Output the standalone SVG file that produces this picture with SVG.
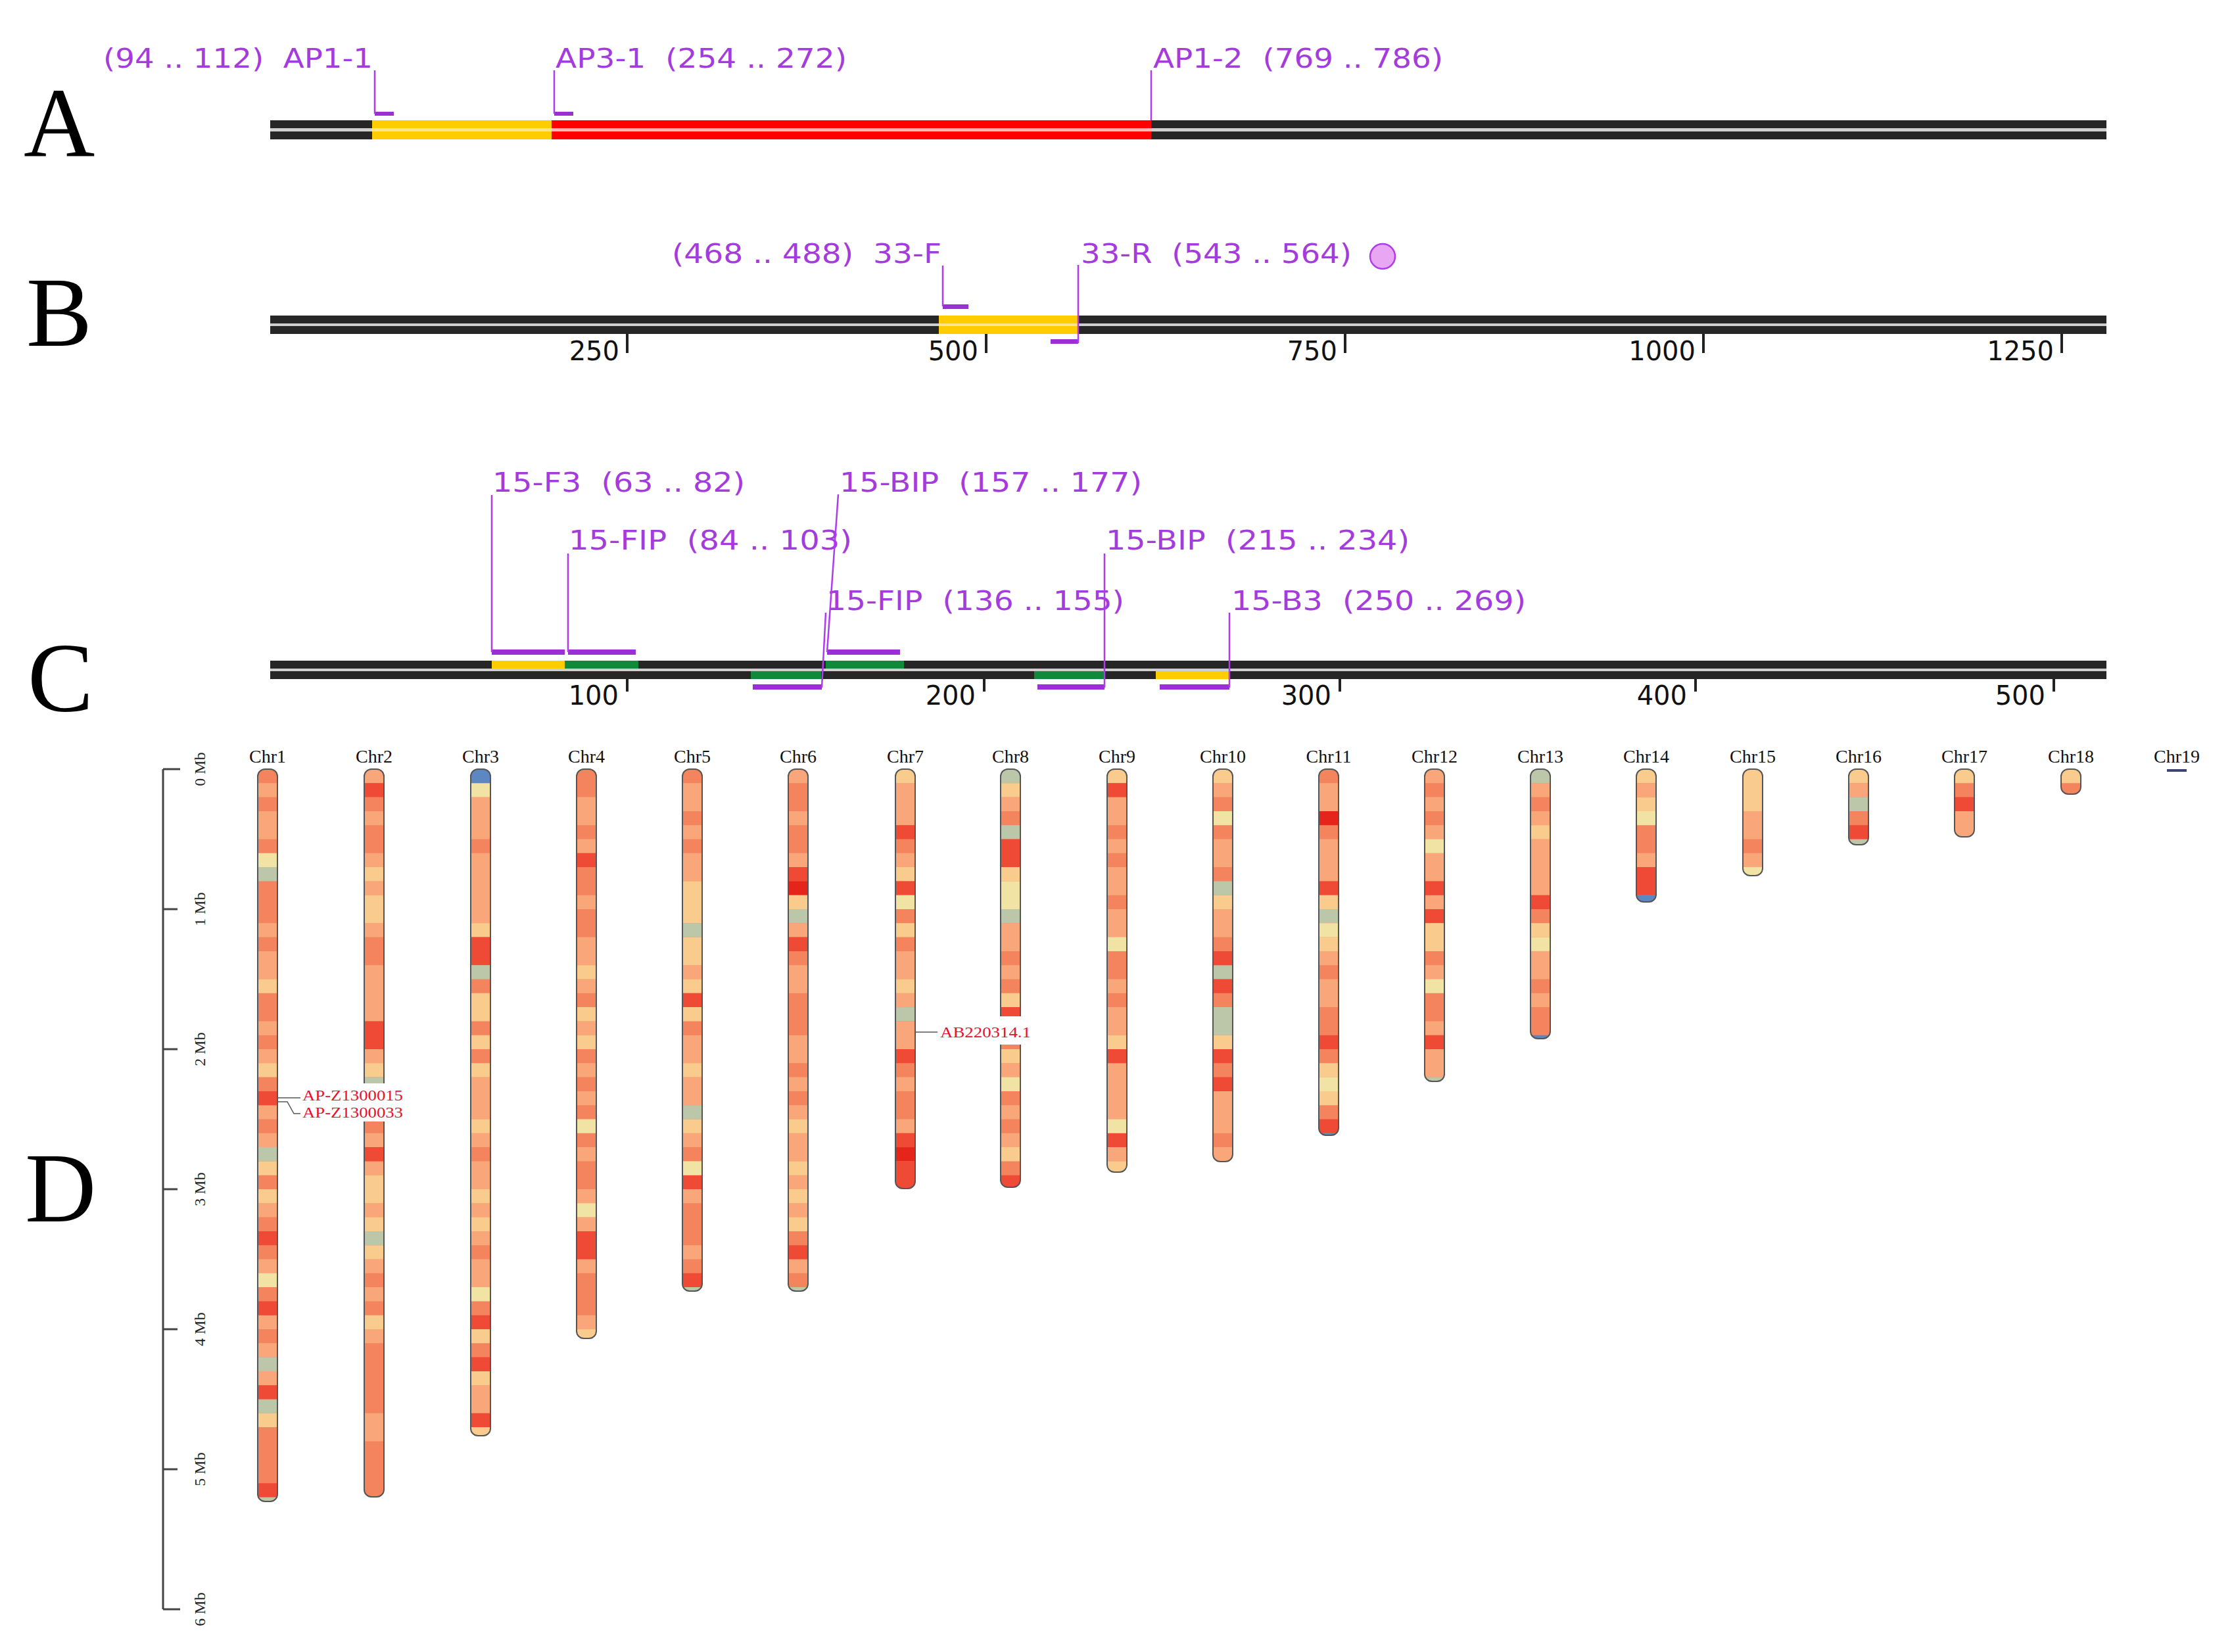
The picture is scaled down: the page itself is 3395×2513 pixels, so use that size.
<svg xmlns="http://www.w3.org/2000/svg" width="3395" height="2513" viewBox="0 0 3395 2513">
<style>
.lab{font-family:"DejaVu Sans",sans-serif;font-size:40px;fill:#A43CDD;white-space:pre}
.tk{font-family:"DejaVu Sans",sans-serif;font-size:40px;fill:#111;text-anchor:end}
.big{font-family:"Liberation Serif",serif;font-size:150px;fill:#000}
.chrl{font-family:"Liberation Serif",serif;font-size:28px;text-anchor:middle;fill:#111}
.mb{font-family:"Liberation Serif",serif;font-size:24px;text-anchor:middle;fill:#222}
.red{font-family:"Liberation Serif",serif;font-size:23px;fill:#E8112D}
.dk{fill:#262626}.gp{fill:#cfcfcf}
.yl{fill:#FFCC00}.yg{fill:#FFE58A}.rd{fill:#FF0000}.rg{fill:#FFB8B8}.gr{fill:#0E8A3A}
.pl{stroke:#B03AF0;stroke-width:2.5;fill:none}
.bar{fill:#9B2FD6}
.tick{stroke:#222;stroke-width:4}
.ax{stroke:#444;stroke-width:3;fill:none}
.ol{fill:none;stroke:#555;stroke-width:2}
.cl{stroke:#555;stroke-width:1.5;fill:none}
.bk{fill:#fff}
.chr path{fill:none;stroke-width:30}
.C{stroke:#F4845E}.S{stroke:#F8A67A}.P{stroke:#F9CB8D}.Y{stroke:#F1E3A3}.G{stroke:#BCC6A9}.R{stroke:#EF4A35}.D{stroke:#E5241C}.B{stroke:#5D87C2}
</style>
<defs>
<clipPath id="k1"><rect x="392" y="1170" width="30" height="1114" rx="11"/></clipPath>
<clipPath id="k2"><rect x="554" y="1170" width="30" height="1107" rx="11"/></clipPath>
<clipPath id="k3"><rect x="716" y="1170" width="30" height="1014" rx="11"/></clipPath>
<clipPath id="k4"><rect x="877" y="1170" width="30" height="866" rx="11"/></clipPath>
<clipPath id="k5"><rect x="1038" y="1170" width="30" height="794" rx="11"/></clipPath>
<clipPath id="k6"><rect x="1199" y="1170" width="30" height="794" rx="11"/></clipPath>
<clipPath id="k7"><rect x="1362" y="1170" width="30" height="638" rx="11"/></clipPath>
<clipPath id="k8"><rect x="1522" y="1170" width="30" height="636" rx="11"/></clipPath>
<clipPath id="k9"><rect x="1684" y="1170" width="30" height="613" rx="11"/></clipPath>
<clipPath id="k10"><rect x="1845" y="1170" width="30" height="597" rx="11"/></clipPath>
<clipPath id="k11"><rect x="2006" y="1170" width="30" height="557" rx="11"/></clipPath>
<clipPath id="k12"><rect x="2167" y="1170" width="30" height="475" rx="11"/></clipPath>
<clipPath id="k13"><rect x="2328" y="1170" width="30" height="410" rx="11"/></clipPath>
<clipPath id="k14"><rect x="2489" y="1170" width="30" height="202" rx="11"/></clipPath>
<clipPath id="k15"><rect x="2651" y="1170" width="30" height="162" rx="11"/></clipPath>
<clipPath id="k16"><rect x="2812" y="1170" width="30" height="115" rx="11"/></clipPath>
<clipPath id="k17"><rect x="2973" y="1170" width="30" height="103" rx="11"/></clipPath>
<clipPath id="k18"><rect x="3135" y="1170" width="30" height="38" rx="11"/></clipPath>
</defs>
<rect width="3395" height="2513" fill="#fff"/>

<g id="panelA">
<text class="big" x="36" y="237">A</text>
<rect class="dk" x="411" y="183" width="2793" height="12"/><rect class="gp" x="411" y="195" width="2793" height="5"/><rect class="dk" x="411" y="200" width="2793" height="12"/>
<rect class="yl" x="566" y="183" width="273" height="29"/><rect class="yg" x="566" y="195" width="273" height="5"/>
<rect class="rd" x="839" y="183" width="912" height="29"/><rect class="rg" x="839" y="195" width="912" height="5"/>
</g>
<g id="AP1-1"><text class="lab" x="157" y="103" textLength="410" lengthAdjust="spacingAndGlyphs">(94 .. 112)  AP1-1</text><rect class="bar" x="570" y="170" width="29" height="6"/></g>
<g id="AP3-1"><text class="lab" x="845" y="103" textLength="443" lengthAdjust="spacingAndGlyphs">AP3-1  (254 .. 272)</text><rect class="bar" x="843" y="170" width="29" height="6"/></g>
<g id="AP1-2"><text class="lab" x="1754" y="103" textLength="441" lengthAdjust="spacingAndGlyphs">AP1-2  (769 .. 786)</text></g>

<g id="panelB">
<text class="big" x="40" y="526">B</text>
<rect class="dk" x="411" y="480" width="2793" height="12"/><rect class="gp" x="411" y="492" width="2793" height="4"/><rect class="dk" x="411" y="496" width="2793" height="12"/>
<rect class="yl" x="1428" y="480" width="212" height="28"/><rect class="yg" x="1428" y="492" width="212" height="4"/>
<line class="tick" x1="954" y1="508" x2="954" y2="537"/><text class="tk" x="942" y="548">250</text>
<line class="tick" x1="1500" y1="508" x2="1500" y2="537"/><text class="tk" x="1488" y="548">500</text>
<line class="tick" x1="2046" y1="508" x2="2046" y2="537"/><text class="tk" x="2034" y="548">750</text>
<line class="tick" x1="2591" y1="508" x2="2591" y2="537"/><text class="tk" x="2579" y="548">1000</text>
<line class="tick" x1="3136" y1="508" x2="3136" y2="537"/><text class="tk" x="3124" y="548">1250</text>
</g>
<g id="p33-F"><text class="lab" x="1022" y="400" textLength="410" lengthAdjust="spacingAndGlyphs">(468 .. 488)  33-F</text><rect class="bar" x="1434" y="463" width="39" height="7"/></g>
<g id="p33-R"><text class="lab" x="1644" y="400" textLength="412" lengthAdjust="spacingAndGlyphs">33-R  (543 .. 564)</text><rect class="bar" x="1598" y="516" width="42" height="7"/><circle cx="2103" cy="390" r="19" fill="#E9A6F2" stroke="#B03AF0" stroke-width="2.5"/></g>

<g id="panelC">
<text class="big" x="42" y="1082">C</text>
<rect class="dk" x="411" y="1005" width="2793" height="12"/><rect class="gp" x="411" y="1017" width="2793" height="4"/><rect class="dk" x="411" y="1021" width="2793" height="12"/>
<rect class="yl" x="748" y="1005" width="111" height="12"/><rect class="gr" x="859" y="1005" width="112" height="12"/><rect class="gr" x="1256" y="1005" width="119" height="12"/>
<rect class="gr" x="1142" y="1021" width="107" height="12"/><rect class="gr" x="1573" y="1021" width="107" height="12"/><rect class="yl" x="1758" y="1021" width="111" height="12"/>
<line class="tick" x1="954" y1="1033" x2="954" y2="1052"/><text class="tk" x="941" y="1072">100</text>
<line class="tick" x1="1497" y1="1033" x2="1497" y2="1052"/><text class="tk" x="1484" y="1072">200</text>
<line class="tick" x1="2038" y1="1033" x2="2038" y2="1052"/><text class="tk" x="2025" y="1072">300</text>
<line class="tick" x1="2579" y1="1033" x2="2579" y2="1052"/><text class="tk" x="2566" y="1072">400</text>
<line class="tick" x1="3124" y1="1033" x2="3124" y2="1052"/><text class="tk" x="3111" y="1072">500</text>
</g>
<g id="p15-F3"><text class="lab" x="749" y="748" textLength="384" lengthAdjust="spacingAndGlyphs">15-F3  (63 .. 82)</text><rect class="bar" x="748" y="988" width="111" height="8"/></g>
<g id="p15-BIP1"><text class="lab" x="1277" y="748" textLength="460" lengthAdjust="spacingAndGlyphs">15-BIP  (157 .. 177)</text><rect class="bar" x="1258" y="988" width="111" height="8"/></g>
<g id="p15-FIP1"><text class="lab" x="865" y="836" textLength="431" lengthAdjust="spacingAndGlyphs">15-FIP  (84 .. 103)</text><rect class="bar" x="864" y="988" width="103" height="8"/></g>
<g id="p15-BIP2"><text class="lab" x="1682" y="836" textLength="462" lengthAdjust="spacingAndGlyphs">15-BIP  (215 .. 234)</text><rect class="bar" x="1578" y="1041" width="102" height="8"/></g>
<g id="p15-FIP2"><text class="lab" x="1257" y="928" textLength="453" lengthAdjust="spacingAndGlyphs">15-FIP  (136 .. 155)</text><rect class="bar" x="1145" y="1041" width="105" height="8"/></g>
<g id="p15-B3"><text class="lab" x="1873" y="928" textLength="448" lengthAdjust="spacingAndGlyphs">15-B3  (250 .. 269)</text><rect class="bar" x="1764" y="1041" width="106" height="8"/></g>

<g id="connectors">
<path class="pl" d="M570 107V173M843 107V173M1751 107V183"/>
<path class="pl" d="M1434 404V466M1640 403V522"/>
<path class="pl" d="M748 753V992M864 842V992M1275 752L1258 992M1256 932L1250 1046M1680 842V1046M1870 932V1046"/>
<path class="cl" d="M393 1670H457M393 1676H437L447 1694H457"/>
<path class="cl" d="M1362 1570H1428"/>
</g>

<g id="panelD">
<text class="big" x="38" y="1858">D</text>
<path class="ax" d="M248 1170V2448M248 1170H274M248 1383H270M248 1596H270M248 1809H270M248 2022H270M248 2235H270M248 2448H274"/>
<text class="mb" transform="translate(312,1170) rotate(-90)">0 Mb</text>
<text class="mb" transform="translate(312,1383) rotate(-90)">1 Mb</text>
<text class="mb" transform="translate(312,1596) rotate(-90)">2 Mb</text>
<text class="mb" transform="translate(312,1809) rotate(-90)">3 Mb</text>
<text class="mb" transform="translate(312,2022) rotate(-90)">4 Mb</text>
<text class="mb" transform="translate(312,2235) rotate(-90)">5 Mb</text>
<text class="mb" transform="translate(312,2448) rotate(-90)">6 Mb</text>
</g>

<g id="chr1" class="chr"><text class="chrl" x="407" y="1160">Chr1</text><g clip-path="url(#k1)"><g transform="translate(407,1170) scale(1,21.3)">
<path class="C" d="M0 0V60"/>
<path class="S" d="M0 1V2M0 3V5M0 11V12M0 13V15M0 18V19M0 20V21M0 24V25M0 26V27M0 31V32M0 35V36M0 39V40M0 41V42M0 43V44"/>
<path class="P" d="M0 15V16M0 21V22M0 28V29M0 30V31M0 46V47"/>
<path class="Y" d="M0 6V7M0 36V37"/>
<path class="G" d="M0 7V8M0 27V28M0 42V43M0 45V46M0 52V54"/>
<path class="R" d="M0 23V24M0 33V34M0 38V39M0 44V45M0 51V52"/>
</g></g><rect class="ol" x="392" y="1170" width="30" height="1114" rx="11"/></g>

<g id="chr2" class="chr"><text class="chrl" x="569" y="1160">Chr2</text><g clip-path="url(#k2)"><g transform="translate(569,1170) scale(1,21.3)">
<path class="C" d="M0 0V60"/>
<path class="S" d="M0 0V1M0 3V4M0 6V7M0 8V9M0 11V12M0 14V18M0 20V21M0 26V27M0 28V29M0 31V32M0 35V36M0 37V38M0 40V41M0 46V48"/>
<path class="R" d="M0 1V2M0 18V20M0 27V28"/>
<path class="P" d="M0 7V8M0 9V11M0 21V22M0 29V31M0 32V33M0 34V35M0 39V40"/>
<path class="G" d="M0 22V23M0 33V34"/>
</g></g><rect class="ol" x="554" y="1170" width="30" height="1107" rx="11"/></g>

<g id="chr3" class="chr"><text class="chrl" x="731" y="1160">Chr3</text><g clip-path="url(#k3)"><g transform="translate(731,1170) scale(1,21.3)">
<path class="C" d="M0 0V60"/>
<path class="S" d="M0 2V5M0 6V11M0 22V25M0 26V27M0 28V30M0 31V32M0 33V34M0 35V37M0 44V46"/>
<path class="P" d="M0 11V12M0 16V18M0 19V20M0 21V22M0 25V26M0 30V31M0 32V33M0 40V41M0 43V44M0 47V49"/>
<path class="R" d="M0 12V14M0 39V40M0 42V43M0 46V47"/>
<path class="G" d="M0 14V15"/>
<path class="Y" d="M0 1V2M0 37V38"/>
<path class="B" d="M0 0V1"/>
</g></g><rect class="ol" x="716" y="1170" width="30" height="1014" rx="11"/></g>

<g id="chr4" class="chr"><text class="chrl" x="892" y="1160">Chr4</text><g clip-path="url(#k4)"><g transform="translate(892,1170) scale(1,21.3)">
<path class="C" d="M0 0V60"/>
<path class="S" d="M0 2V4M0 5V6M0 9V10M0 12V14M0 15V16M0 18V19M0 21V22M0 23V24M0 27V28M0 30V31M0 32V33M0 35V36M0 39V40"/>
<path class="R" d="M0 6V7M0 33V35"/>
<path class="P" d="M0 14V15M0 17V18M0 19V20M0 40V42"/>
<path class="Y" d="M0 25V26M0 31V32"/>
</g></g><rect class="ol" x="877" y="1170" width="30" height="866" rx="11"/></g>

<g id="chr5" class="chr"><text class="chrl" x="1053" y="1160">Chr5</text><g clip-path="url(#k5)"><g transform="translate(1053,1170) scale(1,21.3)">
<path class="C" d="M0 0V60"/>
<path class="S" d="M0 1V3M0 4V5M0 6V8M0 14V15M0 19V21M0 22V24M0 26V27M0 30V31M0 34V35"/>
<path class="P" d="M0 8V11M0 12V14M0 15V16M0 17V18M0 21V22M0 25V26"/>
<path class="G" d="M0 11V12M0 24V25M0 37V39"/>
<path class="R" d="M0 16V17M0 29V30M0 36V37"/>
<path class="Y" d="M0 28V29"/>
</g></g><rect class="ol" x="1038" y="1170" width="30" height="794" rx="11"/></g>

<g id="chr6" class="chr"><text class="chrl" x="1214" y="1160">Chr6</text><g clip-path="url(#k6)"><g transform="translate(1214,1170) scale(1,21.3)">
<path class="C" d="M0 0V60"/>
<path class="S" d="M0 0V1M0 3V4M0 6V7M0 11V12M0 14V16M0 19V21M0 22V23M0 24V25M0 26V28M0 29V30M0 31V32M0 35V36"/>
<path class="R" d="M0 7V8M0 12V13M0 34V35"/>
<path class="D" d="M0 8V9"/>
<path class="P" d="M0 9V10M0 25V26M0 28V29M0 30V31M0 32V33"/>
<path class="G" d="M0 10V11M0 37V39"/>
</g></g><rect class="ol" x="1199" y="1170" width="30" height="794" rx="11"/></g>

<g id="chr7" class="chr"><text class="chrl" x="1377" y="1160">Chr7</text><g clip-path="url(#k7)"><g transform="translate(1377,1170) scale(1,21.3)">
<path class="C" d="M0 0V60"/>
<path class="S" d="M0 1V4M0 6V7M0 13V15M0 16V17M0 18V20M0 22V23M0 25V26"/>
<path class="P" d="M0 0V1M0 7V8M0 11V12M0 15V16"/>
<path class="R" d="M0 4V5M0 8V9M0 20V21M0 26V27M0 28V31"/>
<path class="D" d="M0 27V28"/>
<path class="Y" d="M0 9V10"/>
<path class="G" d="M0 17V18"/>
</g></g><rect class="ol" x="1362" y="1170" width="30" height="638" rx="11"/></g>

<g id="chr8" class="chr"><text class="chrl" x="1537" y="1160">Chr8</text><g clip-path="url(#k8)"><g transform="translate(1537,1170) scale(1,21.3)">
<path class="C" d="M0 0V60"/>
<path class="S" d="M0 2V3M0 11V13M0 14V15M0 21V22M0 24V25M0 26V27"/>
<path class="P" d="M0 1V2M0 7V8M0 16V17M0 20V21M0 27V28"/>
<path class="G" d="M0 0V1M0 4V5M0 10V11"/>
<path class="R" d="M0 5V7M0 17V18M0 29V31"/>
<path class="Y" d="M0 8V10M0 22V23"/>
</g></g><rect class="ol" x="1522" y="1170" width="30" height="636" rx="11"/></g>

<g id="chr9" class="chr"><text class="chrl" x="1699" y="1160">Chr9</text><g clip-path="url(#k9)"><g transform="translate(1699,1170) scale(1,21.3)">
<path class="C" d="M0 0V60"/>
<path class="S" d="M0 2V4M0 5V6M0 7V9M0 10V12M0 15V16M0 17V19M0 21V25M0 27V28"/>
<path class="P" d="M0 0V1M0 19V20M0 28V30"/>
<path class="R" d="M0 1V2M0 20V21M0 26V27"/>
<path class="Y" d="M0 12V13M0 25V26"/>
</g></g><rect class="ol" x="1684" y="1170" width="30" height="613" rx="11"/></g>

<g id="chr10" class="chr"><text class="chrl" x="1860" y="1160">Chr10</text><g clip-path="url(#k10)"><g transform="translate(1860,1170) scale(1,21.3)">
<path class="C" d="M0 0V60"/>
<path class="S" d="M0 1V2M0 5V7M0 10V12M0 23V26M0 27V29"/>
<path class="P" d="M0 0V1M0 9V10M0 19V20"/>
<path class="Y" d="M0 3V4"/>
<path class="G" d="M0 8V9M0 14V15M0 17V19"/>
<path class="R" d="M0 13V14M0 15V16M0 20V21M0 22V23"/>
</g></g><rect class="ol" x="1845" y="1170" width="30" height="597" rx="11"/></g>

<g id="chr11" class="chr"><text class="chrl" x="2021" y="1160">Chr11</text><g clip-path="url(#k11)"><g transform="translate(2021,1170) scale(1,21.3)">
<path class="C" d="M0 0V60"/>
<path class="S" d="M0 1V3M0 5V8M0 13V14M0 15V17"/>
<path class="D" d="M0 3V4"/>
<path class="R" d="M0 8V9M0 19V20M0 25V26"/>
<path class="P" d="M0 9V10M0 12V13M0 21V22M0 23V24"/>
<path class="G" d="M0 10V11"/>
<path class="Y" d="M0 11V12M0 22V23"/>
<path class="B" d="M0 26V28"/>
</g></g><rect class="ol" x="2006" y="1170" width="30" height="557" rx="11"/></g>

<g id="chr12" class="chr"><text class="chrl" x="2182" y="1160">Chr12</text><g clip-path="url(#k12)"><g transform="translate(2182,1170) scale(1,21.3)">
<path class="C" d="M0 0V60"/>
<path class="S" d="M0 0V1M0 2V3M0 4V5M0 6V8M0 9V10M0 14V15M0 18V19M0 20V22"/>
<path class="Y" d="M0 5V6M0 15V16"/>
<path class="R" d="M0 8V9M0 10V11M0 19V20"/>
<path class="P" d="M0 11V13"/>
<path class="G" d="M0 22V24"/>
</g></g><rect class="ol" x="2167" y="1170" width="30" height="475" rx="11"/></g>

<g id="chr13" class="chr"><text class="chrl" x="2343" y="1160">Chr13</text><g clip-path="url(#k13)"><g transform="translate(2343,1170) scale(1,21.3)">
<path class="C" d="M0 0V60"/>
<path class="G" d="M0 0V1"/>
<path class="S" d="M0 1V2M0 3V4M0 5V9M0 13V15M0 16V17"/>
<path class="P" d="M0 4V5M0 11V12"/>
<path class="R" d="M0 9V10"/>
<path class="Y" d="M0 12V13"/>
<path class="B" d="M0 19V21"/>
</g></g><rect class="ol" x="2328" y="1170" width="30" height="410" rx="11"/></g>

<g id="chr14" class="chr"><text class="chrl" x="2504" y="1160">Chr14</text><g clip-path="url(#k14)"><g transform="translate(2504,1170) scale(1,21.3)">
<path class="C" d="M0 0V60"/>
<path class="P" d="M0 0V1M0 2V3"/>
<path class="S" d="M0 1V2M0 6V7"/>
<path class="Y" d="M0 3V4"/>
<path class="R" d="M0 7V9"/>
<path class="B" d="M0 9V11"/>
</g></g><rect class="ol" x="2489" y="1170" width="30" height="202" rx="11"/></g>

<g id="chr15" class="chr"><text class="chrl" x="2666" y="1160">Chr15</text><g clip-path="url(#k15)"><g transform="translate(2666,1170) scale(1,21.3)">
<path class="C" d="M0 0V60"/>
<path class="P" d="M0 0V3"/>
<path class="S" d="M0 3V5M0 6V7"/>
<path class="Y" d="M0 7V9"/>
</g></g><rect class="ol" x="2651" y="1170" width="30" height="162" rx="11"/></g>

<g id="chr16" class="chr"><text class="chrl" x="2827" y="1160">Chr16</text><g clip-path="url(#k16)"><g transform="translate(2827,1170) scale(1,21.3)">
<path class="C" d="M0 0V60"/>
<path class="P" d="M0 0V1"/>
<path class="S" d="M0 1V2"/>
<path class="G" d="M0 2V3M0 5V7"/>
<path class="R" d="M0 4V5"/>
</g></g><rect class="ol" x="2812" y="1170" width="30" height="115" rx="11"/></g>

<g id="chr17" class="chr"><text class="chrl" x="2988" y="1160">Chr17</text><g clip-path="url(#k17)"><g transform="translate(2988,1170) scale(1,21.3)">
<path class="C" d="M0 0V60"/>
<path class="P" d="M0 0V1"/>
<path class="R" d="M0 2V3"/>
<path class="S" d="M0 3V6"/>
</g></g><rect class="ol" x="2973" y="1170" width="30" height="103" rx="11"/></g>

<g id="chr18" class="chr"><text class="chrl" x="3150" y="1160">Chr18</text><g clip-path="url(#k18)"><g transform="translate(3150,1170) scale(1,21.3)">
<path class="C" d="M0 0V60"/>
<path class="P" d="M0 0V1"/>
</g></g><rect class="ol" x="3135" y="1170" width="30" height="38" rx="11"/></g>

<g id="chr19"><text class="chrl" x="3311" y="1160">Chr19</text><line x1="3296" y1="1172" x2="3326" y2="1172" stroke="#3a4670" stroke-width="4"/></g>

<g id="lab-APZ"><rect class="bk" x="457" y="1648" width="160" height="58"/><text class="red" x="460" y="1674" textLength="153" lengthAdjust="spacingAndGlyphs">AP-Z1300015</text><text class="red" x="460" y="1700" textLength="153" lengthAdjust="spacingAndGlyphs">AP-Z1300033</text></g>
<g id="lab-AB"><rect class="bk" x="1426" y="1546" width="146" height="43"/><text class="red" x="1430" y="1578" textLength="138" lengthAdjust="spacingAndGlyphs">AB220314.1</text></g>
</svg>
